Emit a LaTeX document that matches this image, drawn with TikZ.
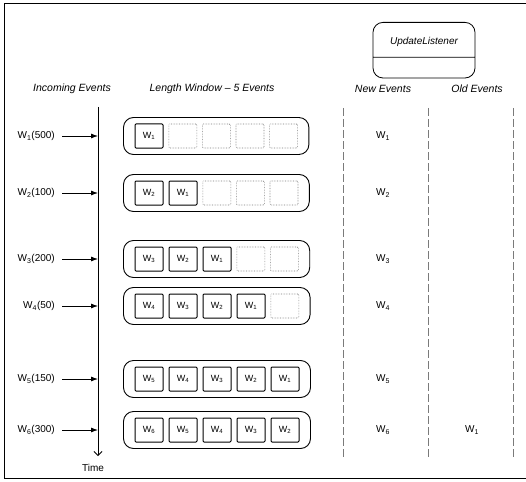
\documentclass[tikz,border=0pt]{standalone}
\usepackage{fontspec}
\setmainfont{Liberation Sans}
\usepackage{tikz}
\usetikzlibrary{arrows.meta, positioning, fit, shapes.multipart}
\definecolor{slotgray}{HTML}{7A7A7A}

\begin{document}
\begin{tikzpicture}[
    x=1pt, y=-1pt,
    node distance=5pt,
    header/.style={font=\fontsize{10.5}{12}\selectfont\itshape},
    evt/.style={font=\fontsize{10}{12}\selectfont, inner sep=1pt},
    cell/.style={rectangle, draw, line width=1pt, rounded corners=1pt, minimum width=28pt, minimum height=24pt, inner sep=0pt, font=\fontsize{9}{10}\selectfont},
    slot/.style={cell, draw=slotgray, line width=0.6pt, densely dotted},
    window/.style={rectangle, draw, line width=0.9pt, rounded corners=10pt, inner xsep=11pt, inner ysep=6pt},
    listener/.style={rectangle split, rectangle split parts=2, draw, thick, rounded corners=10pt, minimum width=102pt, inner ysep=5pt, align=center},
    arrow/.style={-{Latex[length=7pt, width=5pt]}, thick},
    timeline/.style={-{Straight Barb[length=4pt, width=8pt]}, thick},
    divider/.style={slotgray, dash pattern=on 8pt off 3pt},
]
\useasboundingbox (0,0) rectangle (526,481);

% frame
\draw[thick] (526,3) -- (4,3) -- (4,478) -- (526,478);

% listener and headers
\node[listener, anchor=north] (ul) at (424,22) {\fontsize{10}{12}\selectfont\itshape\rule[-7pt]{0pt}{24pt}UpdateListener\nodepart{two}\rule{0pt}{10pt}};
\node[header] (hin) at (72,89) {Incoming Events};
\node[header] (hwin) at (212,89) {Length Window -- 5 Events};
\node[header] (hnew) at (383,89) {New Events};
\node[header] (hold) at (477,89) {Old Events};

% time axis
\coordinate (ttop) at (98,107);
\coordinate (tend) at (98,456);
\draw[timeline] (ttop) -- (tend);
\node[evt] (time) at (93,468) {Time};

% column dividers
\draw[divider] (343,108) -- (343,458);
\draw[divider] (428,108) -- (428,458);
\draw[divider] (513,108) -- (513,458);

% row 1
\node[evt, anchor=east] (in1) at (56,136) {W\textsubscript{1}(500)};
\node[cell] (c11) at (149,136) {W\textsubscript{1}};
\node[slot, right=of c11] (c12) {};
\node[slot, right=of c12] (c13) {};
\node[slot, right=of c13] (c14) {};
\node[slot, right=of c14] (c15) {};
\node[window, fit=(c11)(c15)] (win1) {};
\node[evt] (new1) at (383,136) {W\textsubscript{1}};

% row 2
\node[evt, anchor=east] (in2) at (56,193) {W\textsubscript{2}(100)};
\node[cell] (c21) at (149,193) {W\textsubscript{2}};
\node[cell, right=of c21] (c22) {W\textsubscript{1}};
\node[slot, right=of c22] (c23) {};
\node[slot, right=of c23] (c24) {};
\node[slot, right=of c24] (c25) {};
\node[window, fit=(c21)(c25)] (win2) {};
\node[evt] (new2) at (383,193) {W\textsubscript{2}};

% row 3
\node[evt, anchor=east] (in3) at (56,259) {W\textsubscript{3}(200)};
\node[cell] (c31) at (149,259) {W\textsubscript{3}};
\node[cell, right=of c31] (c32) {W\textsubscript{2}};
\node[cell, right=of c32] (c33) {W\textsubscript{1}};
\node[slot, right=of c33] (c34) {};
\node[slot, right=of c34] (c35) {};
\node[window, fit=(c31)(c35)] (win3) {};
\node[evt] (new3) at (383,259) {W\textsubscript{3}};

% row 4
\node[evt, anchor=east] (in4) at (56,306) {W\textsubscript{4}(50)};
\node[cell] (c41) at (149,306) {W\textsubscript{4}};
\node[cell, right=of c41] (c42) {W\textsubscript{3}};
\node[cell, right=of c42] (c43) {W\textsubscript{2}};
\node[cell, right=of c43] (c44) {W\textsubscript{1}};
\node[slot, right=of c44] (c45) {};
\node[window, fit=(c41)(c45)] (win4) {};
\node[evt] (new4) at (383,306) {W\textsubscript{4}};

% row 5
\node[evt, anchor=east] (in5) at (56,379) {W\textsubscript{5}(150)};
\node[cell] (c51) at (149,379) {W\textsubscript{5}};
\node[cell, right=of c51] (c52) {W\textsubscript{4}};
\node[cell, right=of c52] (c53) {W\textsubscript{3}};
\node[cell, right=of c53] (c54) {W\textsubscript{2}};
\node[cell, right=of c54] (c55) {W\textsubscript{1}};
\node[window, fit=(c51)(c55)] (win5) {};
\node[evt] (new5) at (383,379) {W\textsubscript{5}};

% row 6
\node[evt, anchor=east] (in6) at (56,430) {W\textsubscript{6}(300)};
\node[cell] (c61) at (149,430) {W\textsubscript{6}};
\node[cell, right=of c61] (c62) {W\textsubscript{5}};
\node[cell, right=of c62] (c63) {W\textsubscript{4}};
\node[cell, right=of c63] (c64) {W\textsubscript{3}};
\node[cell, right=of c64] (c65) {W\textsubscript{2}};
\node[window, fit=(c61)(c65)] (win6) {};
\node[evt] (new6) at (383,430) {W\textsubscript{6}};
\node[evt] (old1) at (472,430) {W\textsubscript{1}};

% incoming arrows
\draw[arrow, shorten <=6pt] (in1.east) -- (in1.east -| ttop);
\draw[arrow, shorten <=6pt] (in2.east) -- (in2.east -| ttop);
\draw[arrow, shorten <=6pt] (in3.east) -- (in3.east -| ttop);
\draw[arrow, shorten <=6pt] (in4.east) -- (in4.east -| ttop);
\draw[arrow, shorten <=6pt] (in5.east) -- (in5.east -| ttop);
\draw[arrow, shorten <=6pt] (in6.east) -- (in6.east -| ttop);

\end{tikzpicture}
\end{document}
